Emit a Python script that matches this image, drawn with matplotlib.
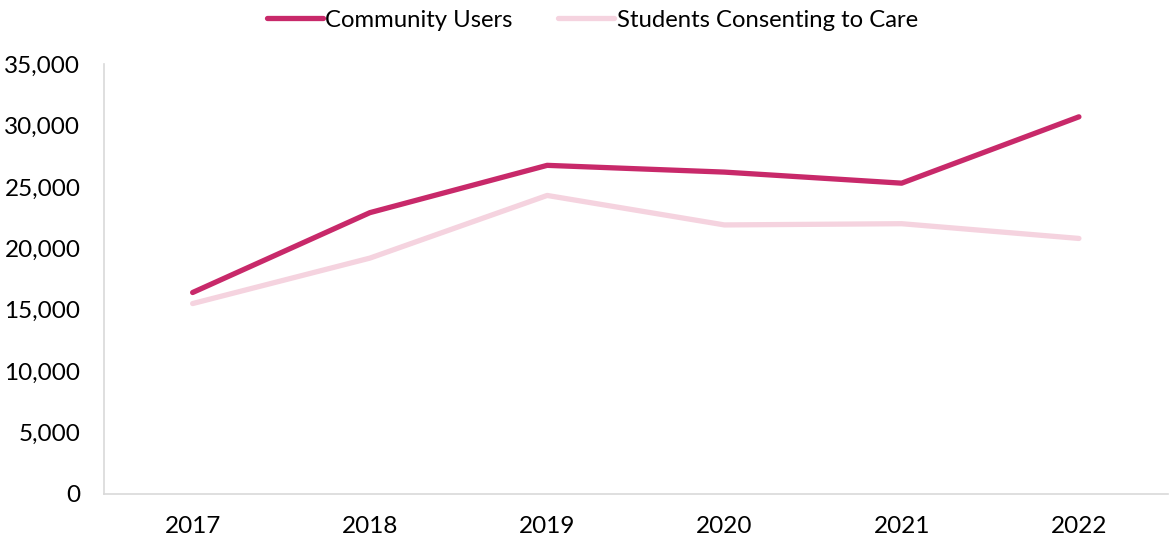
import matplotlib.pyplot as plt
from matplotlib.ticker import FuncFormatter

plt.rcParams['font.family'] = ['Lato', 'DejaVu Sans']

# Chart data
years = ["2017", "2018", "2019", "2020", "2021", "2022"]
community_users = [16400, 22900, 26750, 26200, 25300, 30700]
students_consenting = [15500, 19200, 24300, 21900, 22000, 20800]

fig = plt.figure(figsize=(11.7, 5.4), dpi=100)
ax = fig.add_axes([0.0889, 0.0852, 0.909, 0.7963])

x = range(len(years))
ax.plot(x, community_users, color="#C8296A", lw=3.8, solid_capstyle="round",
        solid_joinstyle="round", label="Community Users")
ax.plot(x, students_consenting, color="#F5D3DF", lw=3.8, solid_capstyle="round",
        solid_joinstyle="round", label="Students Consenting to Care")

ax.set_xlim(-0.5, len(years) - 0.5)
ax.set_ylim(0, 35000)
ax.set_yticks(range(0, 35001, 5000))
ax.yaxis.set_major_formatter(FuncFormatter(lambda v, p: f"{int(v):,}"))
ax.set_xticks(list(x))
ax.set_xticklabels(years)

for s in ["top", "right"]:
    ax.spines[s].set_visible(False)
ax.spines["left"].set_color("#D9D9D9")
ax.spines["bottom"].set_color("#D9D9D9")
ax.spines["left"].set_linewidth(1.2)
ax.spines["bottom"].set_linewidth(1.2)
ax.tick_params(axis="both", length=0, labelsize=17.5, colors="black")
ax.tick_params(axis="y", pad=17)
ax.tick_params(axis="x", pad=16)

ax.legend(loc="upper center", bbox_to_anchor=(0.459, 1.16), ncol=2, frameon=False,
          fontsize=17.2, handlelength=2.35, handletextpad=0.1, columnspacing=1.9,
          borderaxespad=0.2)

plt.savefig("out.png")
